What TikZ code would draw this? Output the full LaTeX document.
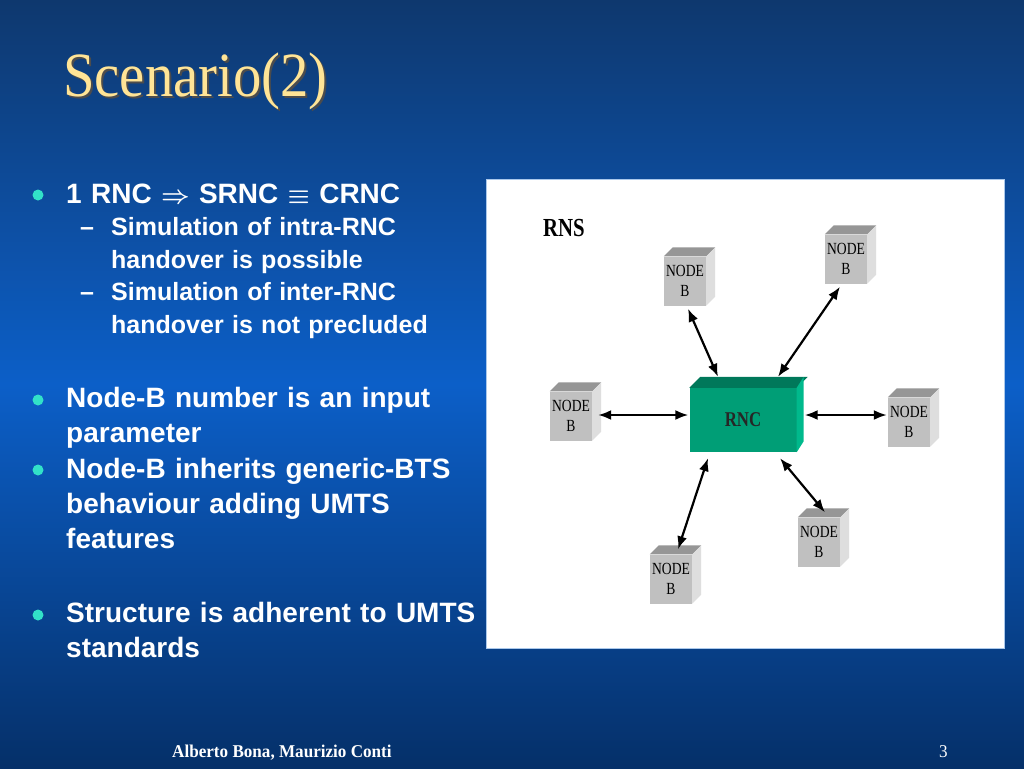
\documentclass[tikz,border=0pt]{standalone}
\usepackage{amsmath}
\usepackage{fontspec}
\setmainfont{Liberation Serif}
\newfontfamily\bulletfont[Ligatures=TeX]{Liberation Sans}
\newfontfamily\titlefont[FakeStretch=0.9]{Liberation Serif}
\newfontfamily\labelfont[FakeStretch=0.8]{Liberation Serif}
\newfontfamily\footfont[FakeStretch=0.95]{Liberation Serif}
\usetikzlibrary{arrows.meta}
\definecolor{slidetop}{RGB}{14,56,110}
\definecolor{slidemid}{RGB}{12,95,200}
\definecolor{slidebot}{RGB}{5,48,105}
\definecolor{titlegold}{RGB}{255,228,150}
\definecolor{dotcyan}{RGB}{50,225,200}
\definecolor{boxfront}{RGB}{192,192,192}
\definecolor{boxtop}{RGB}{150,150,150}
\definecolor{boxside}{RGB}{222,222,222}
\definecolor{rncfront}{RGB}{0,158,118}
\definecolor{rnctop}{RGB}{0,120,90}
\definecolor{rncside}{RGB}{0,185,140}
\definecolor{panelline}{RGB}{170,200,235}

\begin{document}
\begin{tikzpicture}[x=1pt, y=-1pt,
    item/.style={anchor=base west, text width=420, align=left, inner sep=0, text=white, font=\bulletfont\bfseries\fontsize{28}{35}\selectfont},
    subitem/.style={item, text width=380, font=\bulletfont\bfseries\fontsize{25}{33}\selectfont},
    subdash/.style={anchor=base west, inner sep=0, text=white, font=\bulletfont\bfseries\fontsize{25}{33}\selectfont},
    bulletdot/.style={circle, fill=dotcyan, minimum size=11, inner sep=0},
    nodeb/.style={rectangle, fill=boxfront, minimum width=42, minimum height=49, inner sep=0, align=center, font=\labelfont\fontsize{17}{20}\selectfont},
    rncbox/.style={rectangle, fill=rncfront, minimum width=107, minimum height=64, inner sep=0, font=\labelfont\bfseries\fontsize{21}{21}\selectfont, text=black!85},
    arrow/.style={{Latex[length=13pt,width=10pt]}-{Latex[length=13pt,width=10pt]}, line width=2.2pt}
]
    % Slide background
    \shade[top color=slidetop, bottom color=slidebot, middle color=slidemid] (0,0) rectangle (1024,768);
    \useasboundingbox (0,0) rectangle (1024,768);

    % Title with its shadow
    \node[anchor=base west, inner sep=0, text=black!70, font=\titlefont\fontsize{63}{63}\selectfont] (titleshadow) at (65,98) {Scenario(2)};
    \node[anchor=base west, inner sep=0, text=titlegold, font=\titlefont\fontsize{63}{63}\selectfont] (title) at (63,96) {Scenario(2)};

    % Bullet list
    \node[bulletdot] (b1) at (38,195) {};
    \node[item] (item1) at (66,203) {1 RNC $\boldsymbol{\Rightarrow}$\ SRNC $\boldsymbol{\equiv}$ CRNC};
    \node[subdash] (d1) at (80,235) {–};
    \node[subitem] (sub1) at (111,235) {Simulation of intra-RNC\\handover is possible};
    \node[subdash] (d2) at (80,300) {–};
    \node[subitem] (sub2) at (111,300) {Simulation of inter-RNC\\handover is not precluded};

    \node[bulletdot] (b2) at (38,400) {};
    \node[item] (item2) at (66,407) {Node-B number is an input\\parameter};
    \node[bulletdot] (b3) at (38,470) {};
    \node[item] (item3) at (66,478) {Node-B inherits generic-BTS\\behaviour adding UMTS\\features};
    \node[bulletdot] (b4) at (38,615) {};
    \node[item] (item4) at (66,622) {Structure is adherent to UMTS\\standards};

    % RNS panel
    \filldraw[fill=white, draw=panelline, line width=1pt] (486,179) rectangle (1004,648);
    \node[anchor=base west, inner sep=0, font=\labelfont\bfseries\fontsize{26}{26}\selectfont] (rns) at (543,236) {RNS};

    % RNC and Node-Bs
    \node[rncbox] (rnc) at (743,420) {RNC};
    \node[nodeb] (nb1) at (685,281) {NODE\\B};
    \node[nodeb] (nb2) at (846,259) {NODE\\B};
    \node[nodeb] (nb3) at (571,416) {NODE\\B};
    \node[nodeb] (nb4) at (909,422) {NODE\\B};
    \node[nodeb] (nb5) at (819,542) {NODE\\B};
    \node[nodeb] (nb6) at (671,579) {NODE\\B};

    % 3D faces of the boxes
    \foreach \n in {nb1,nb2,nb3,nb4,nb5,nb6} {
        \fill[boxtop] (\n.north west) -- ([shift={(9,-9)}]\n.north west) -- ([shift={(9,-9)}]\n.north east) -- (\n.north east) -- cycle;
        \fill[boxside] (\n.north east) -- ([shift={(9,-9)}]\n.north east) -- ([shift={(9,-9)}]\n.south east) -- (\n.south east) -- cycle;
    }
    \fill[rnctop] (rnc.north west) -- ([shift={(11,-11)}]rnc.north west) -- ([shift={(11,-11)}]rnc.north east) -- (rnc.north east) -- cycle;
    \fill[rncside] (rnc.north east) -- ([shift={(7,-11)}]rnc.north east) -- ([shift={(7,-11)}]rnc.south east) -- (rnc.south east) -- cycle;

    % Links
    \draw[arrow] ([shift={(3,3)}]nb1.south) -- ([shift={(-25,-11)}]rnc.north);
    \draw[arrow] ([shift={(-6,3)}]nb2.south) -- ([shift={(35,-11)}]rnc.north);
    \draw[arrow] ([shift={(6,-1)}]nb3.east) -- ([shift={(-1,-5)}]rnc.west);
    \draw[arrow] ([shift={(8,-5)}]rnc.east) -- ([shift={(-1,-7)}]nb4.west);
    \draw[arrow] ([shift={(37,6)}]rnc.south) -- ([shift={(6,-5)}]nb5.north);
    \draw[arrow] ([shift={(-35,6)}]rnc.south) -- ([shift={(7,-5)}]nb6.north);

    % Footer
    \node[anchor=base west, inner sep=0, text=white, font=\footfont\bfseries\fontsize{18}{18}\selectfont] (authors) at (172,757) {Alberto Bona, Maurizio Conti};
    \node[anchor=base west, inner sep=0, text=white, font=\footfont\fontsize{18}{18}\selectfont] (pagenum) at (939,757) {3};
\end{tikzpicture}
\end{document}
